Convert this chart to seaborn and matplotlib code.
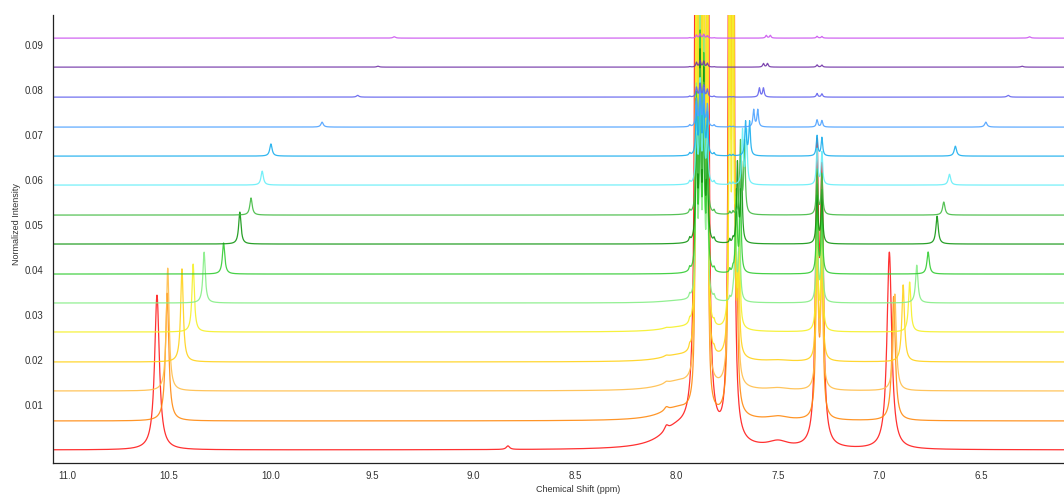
import numpy as np
import pandas as pd
import matplotlib
matplotlib.use("Agg")
import matplotlib.pyplot as plt
import seaborn as sns
from matplotlib.ticker import MultipleLocator, FixedLocator, FuncFormatter

# ---------------- data ----------------
# 15 stacked spectra, bottom (red) to top (violet)
trace_names = ["t01", "t02", "t03", "t04", "t05", "t06", "t07", "t08",
               "t09", "t10", "t11", "t12", "t13", "t14", "t15"]
baselines = [0.0, 0.00644, 0.01311, 0.01956, 0.02622, 0.03267, 0.03911, 0.04578,
             0.05222, 0.05889, 0.06533, 0.07178, 0.07844, 0.08511, 0.09156]
line_broadening = [2.0, 1.4, 1.2, 1.1, 1.0, 1.0, 1.0, 1.0, 1.0, 1.0, 1.0, 1.0, 1.0, 1.0, 1.0]

# peak A (10.56 -> 9.39 ppm)
peak_a_ppm = [10.558, 10.508, 10.505, 10.435, 10.380, 10.326, 10.230, 10.150,
              10.095, 10.040, 9.997, 9.745, 9.570, 9.470, 9.390]
peak_a_height = [0.0344, 0.0284, 0.0273, 0.0207, 0.0151, 0.0113, 0.0069, 0.0071,
                 0.0038, 0.0031, 0.0027, 0.0011, 0.0004, 0.0002, 0.0003]
# peak B (6.95 -> 6.26 ppm)
peak_b_ppm = [6.952, 6.931, 6.925, 6.884, 6.852, 6.817, 6.761, 6.717,
              6.684, 6.656, 6.627, 6.477, 6.367, 6.298, 6.262]
peak_b_height = [0.0438, 0.0276, 0.0215, 0.0171, 0.0111, 0.0084, 0.0049, 0.0062,
                 0.0029, 0.0024, 0.0022, 0.0011, 0.0004, 0.0002, 0.0003]
# multiplet near 7.88 ppm
cluster_line_ppm = [7.902, 7.884, 7.866, 7.848]
cluster_line_rel = [0.75, 1.0, 0.9, 0.6]
cluster_height = [1.0, 0.30, 0.26, 0.22, 0.17, 0.06, 0.05, 0.04,
                  0.03, 0.022, 0.015, 0.008, 0.0028, 0.0014, 0.0009]
satellite_ppm = [7.935, 7.815]
satellite_height = [0.0, 0.0, 0.0, 0.0008, 0.0008, 0.0008, 0.0008, 0.0008,
                    0.0007, 0.0006, 0.0005, 0.0004, 0.0002, 0.0001, 0.0001]
# big doublet near 7.73 ppm
peak_d_ppm = [7.738, 7.722]
peak_d_height = [0.6, 0.30, 0.24, 0.19, 0.12, 0.0008, 0.0008, 0.0008,
                 0.0006, 0.0005, 0.0003, 0.0002, 0.0001, 0.0, 0.0]
# doublet moving 7.72 -> 7.55 ppm
peak_e_ppm = [7.720, 7.712, 7.708, 7.704, 7.700, 7.700, 7.695, 7.690,
              7.675, 7.665, 7.650, 7.610, 7.582, 7.562, 7.548]
peak_e_height = [0.0, 0.02, 0.02, 0.02, 0.02, 0.020, 0.018, 0.0176,
                 0.016, 0.012, 0.0075, 0.0038, 0.002, 0.0008, 0.0006]
peak_e_split = 0.02
# doublet at 7.30 ppm
peak_f_ppm = 7.296
peak_f_split = 0.024
peak_f_height = [0.062, 0.045, 0.040, 0.035, 0.030, 0.022, 0.017, 0.013,
                 0.010, 0.008, 0.0045, 0.0016, 0.0008, 0.0005, 0.0004]
peak_f_second_rel = 0.9
# broad wing on the low-field side of the 7.88 multiplet, small bumps
wing_ppm = 8.0
wing_height = [0.004, 0.0025, 0.0018, 0.0012, 0.0008, 0.0004, 0.0, 0.0,
               0.0, 0.0, 0.0, 0.0, 0.0, 0.0, 0.0]
bump_ppm = [8.05, 8.83, 7.50]
bump_height_8_05 = [0.0012, 0.0008, 0.0004, 0.0003, 0.0002, 0, 0, 0, 0, 0, 0, 0, 0, 0, 0]
bump_height_8_83 = [0.0008, 0, 0, 0, 0, 0, 0, 0, 0, 0, 0, 0, 0, 0, 0]
bump_height_7_50 = [0.0014, 0.0008, 0.0005, 0.0003, 0, 0, 0, 0, 0, 0, 0, 0, 0, 0, 0]
x_tick_values = [11.0, 10.5, 10.0, 9.5, 9.0, 8.5, 8.0, 7.5, 7.0, 6.5]

# ---------------- styles ----------------
colors = ["#FF1A1A", "#FF8A10", "#FFBE4A", "#FFD21A", "#F5F028", "#86EE86",
          "#33CC33", "#129612", "#44BB44", "#66EEF8", "#1AAEEE", "#4EA2FF",
          "#6262EE", "#7235A8", "#CC55F0"]

ppm_grid = np.linspace(11.2, 5.8, 16201)


def lor(x, c, h, g):
    return h * g * g / (g * g + (x - c) ** 2)


frames = []
for i, name in enumerate(trace_names):
    w = line_broadening[i]
    y = np.full_like(ppm_grid, baselines[i])
    y += lor(ppm_grid, peak_a_ppm[i], peak_a_height[i], 0.007 * w)
    y += lor(ppm_grid, peak_b_ppm[i], peak_b_height[i], 0.007 * w)
    for c, r in zip(cluster_line_ppm, cluster_line_rel):
        y += lor(ppm_grid, c, cluster_height[i] * r, 0.003 if i < 5 else 0.004)
    for c in satellite_ppm:
        y += lor(ppm_grid, c, satellite_height[i], 0.004)
    for c in peak_d_ppm:
        y += lor(ppm_grid, c, peak_d_height[i], 0.003)
    for s in (-0.5, 0.5):
        y += lor(ppm_grid, peak_e_ppm[i] + s * peak_e_split, peak_e_height[i], 0.0045 * w)
    y += lor(ppm_grid, peak_f_ppm + 0.5 * peak_f_split, peak_f_height[i], 0.0045 * w)
    y += lor(ppm_grid, peak_f_ppm - 0.5 * peak_f_split, peak_f_height[i] * peak_f_second_rel, 0.0045 * w)
    y += lor(ppm_grid, wing_ppm, wing_height[i], 0.1)
    y += lor(ppm_grid, bump_ppm[0], bump_height_8_05[i], 0.012)
    y += lor(ppm_grid, bump_ppm[1], bump_height_8_83[i], 0.01)
    y += lor(ppm_grid, bump_ppm[2], bump_height_7_50[i], 0.06)
    frames.append(pd.DataFrame({"ppm": ppm_grid, "intensity": y, "trace": name}))
df = pd.concat(frames, ignore_index=True)

# ---------------- plot ----------------
sns.set_style("white")
plt.rcParams["font.family"] = ["Liberation Sans Narrow", "Liberation Sans", "DejaVu Sans"]

fig = plt.figure(figsize=(10.64, 4.95), dpi=100)
ax = fig.add_axes([53 / 1064, 32 / 495, 1050 / 1064, 448 / 495])

palette = dict(zip(trace_names, colors))
sns.lineplot(data=df, x="ppm", y="intensity", hue="trace", hue_order=trace_names,
             palette=palette, estimator=None, sort=False, legend=False,
             linewidth=0.9, alpha=0.9, ax=ax)

ax.set_xlim(11.07, 5.90)
ax.set_ylim(-0.0029, 0.0967)

ax.xaxis.set_major_locator(FixedLocator(x_tick_values))
ax.xaxis.set_minor_locator(MultipleLocator(0.05))
ax.xaxis.set_major_formatter(FuncFormatter(lambda v, p: f"{v:.1f}"))
ax.yaxis.set_major_locator(MultipleLocator(0.01))
ax.yaxis.set_minor_locator(MultipleLocator(0.001))
ax.yaxis.set_major_formatter(FuncFormatter(lambda v, p: "" if abs(v) < 1e-9 else f"{v:.2f}"))

for s in ["top", "right"]:
    ax.spines[s].set_visible(False)
for s in ["left", "bottom"]:
    ax.spines[s].set_color("#222222")
    ax.spines[s].set_linewidth(0.9)

ax.tick_params(axis="both", which="major", direction="out", length=4, width=0.8,
               colors="#222222", labelsize=7, labelcolor="#333333", pad=3)
ax.tick_params(axis="both", which="minor", direction="out", length=2.2, width=0.6,
               colors="#222222")
ax.tick_params(axis="x", which="major", pad=2)

ax.set_xlabel("Chemical Shift (ppm)", fontsize=6.5, color="#333333")
ax.set_ylabel("Normalized Intensity", fontsize=6.5, color="#333333")
ax.yaxis.set_label_coords(-0.035, 0.533)
ax.xaxis.set_label_coords(0.5, -0.059)
ax.yaxis.label.set_va("center")
ax.xaxis.label.set_va("center")

fig.savefig("out.png", dpi=100)
